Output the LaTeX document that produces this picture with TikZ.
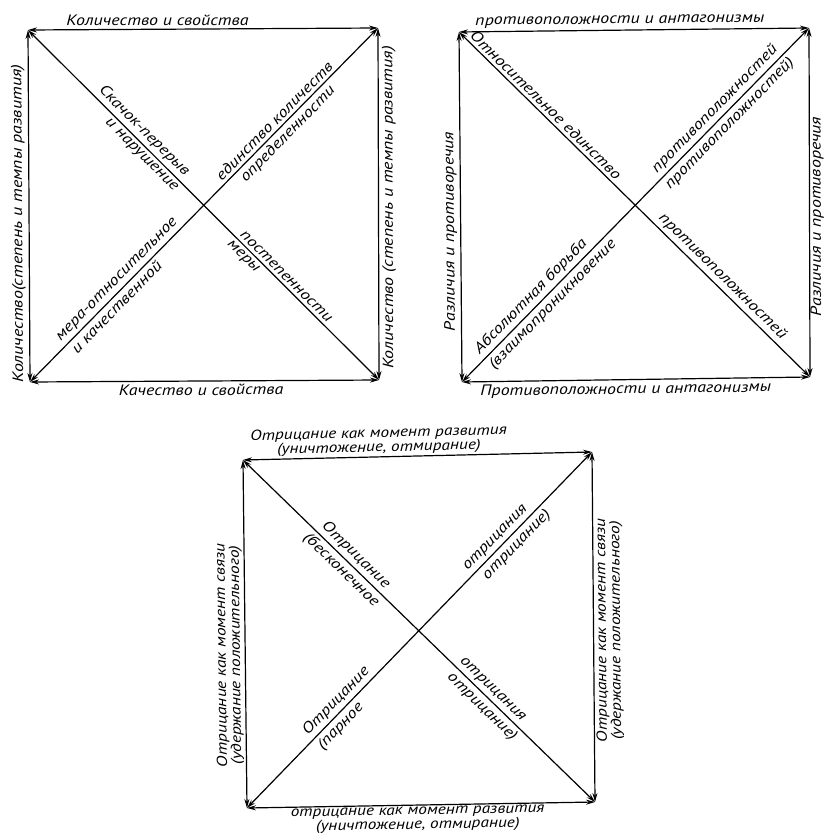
\documentclass[tikz,border=0pt]{standalone}
\usepackage{fontspec}
\setmainfont{PT Sans}[FakeStretch=1.2]
\usetikzlibrary{arrows.meta}
\tikzset{
  lab/.style={font=\itshape\fontsize{15}{12}\selectfont, inner sep=3pt, sloped, allow upside down},
  twolab/.style={lab, align=center, font=\itshape\fontsize{14.5}{11}\selectfont, inner sep=1.5pt},
}
\begin{document}
\begin{tikzpicture}[x=1pt,y=-1pt,>={Stealth[length=9pt,width=5pt]},line width=1.2pt]
\useasboundingbox (0,0) rectangle (824,834);
\coordinate (a1) at (28,30);
\coordinate (b1) at (378,28);
\coordinate (c1) at (30,382);
\coordinate (d1) at (379,380);
\coordinate (a2) at (459,32);
\coordinate (b2) at (809,28);
\coordinate (c2) at (462,382);
\coordinate (d2) at (810,377);
\coordinate (a3) at (243,460);
\coordinate (b3) at (592,452);
\coordinate (c3) at (247,808);
\coordinate (d3) at (595,802);
\draw[<->] (a1) -- node[lab,above,pos=.37] (top1) {Количество и свойства} (b1);
\draw[<->] (c1) -- node[lab,below,pos=.49] (bot1) {Качество и свойства} (d1);
\draw[<->] (c1) -- node[lab,above,pos=.45] (lft1) {Количество(степень и темпы развития)} (a1);
\draw[<->] (d1) -- node[lab,below,pos=.49] (rgt1) {Количество (степень и темпы развития)} (b1);
\draw[<->] (a1) -- node[lab,above,pos=.31] (skachok) {Скачок-перерыв} node[lab,below,pos=.34] (narush) {и нарушение}
  node[lab,above,pos=.72] (postep) {постепенности} node[lab,below,pos=.63] (mery) {меры} (d1);
\draw[<->] (c1) -- node[lab,above,pos=.27] (mera) {мера-относительное} node[lab,below,pos=.23] (kachest) {и качественной}
  node[lab,above,pos=.72] (edinkol) {единство количеств} node[lab,below,pos=.72] (opred) {определенности} (b1);
\draw[<->] (a2) -- node[lab,above,pos=.46] (top2) {противоположности и антагонизмы} (b2);
\draw[<->] (c2) -- node[lab,below,pos=.47] (bot2) {Противоположности и антагонизмы} (d2);
\draw[<->] (c2) -- node[lab,above,pos=.43] (lft2) {Различия и противоречия} (a2);
\draw[<->] (d2) -- node[lab,below,pos=.46,inner sep=0pt] (rgt2) {Различия и противоречия} (b2);
\draw[<->] (a2) -- node[lab,above,pos=.23] (otnos) {Относительное единство}
  node[lab,above,pos=.73] (protiv1) {противоположностей} (d2);
\draw[<->] (c2) -- node[lab,above,pos=.22] (absol) {Абсолютная борьба} node[lab,below,pos=.24] (vzaim) {(взаимопроникновение}
  node[lab,above,pos=.75] (protiv2) {противоположностей} node[lab,below,pos=.75] (protiv3) {противоположностей)} (b2);
\draw[<->] (a3) -- node[twolab,above,pos=.39] (top3) {Отрицание как момент развития\\(уничтожение, отмирание)} (b3);
\draw[<->] (c3) -- node[twolab,below,pos=.49] (bot3) {отрицание как момент развития\\(уничтожение, отмирание)} (d3);
\draw[<->] (c3) -- node[twolab,above,pos=.44] (lft3) {Отрицание как момент связи\\(удержание положительного)} (a3);
\draw[<->] (d3) -- node[twolab,below,pos=.49] (rgt3) {Отрицание как момент связи\\(удержание положительного)} (b3);
\draw[<->] (a3) -- node[lab,above,pos=.30] (otr1) {Отрицание} node[lab,below,pos=.30] (beskon) {(бесконечное}
  node[lab,above,pos=.69] (otr2) {отрицания} node[lab,below,pos=.70] (otr3) {отрицание)} (d3);
\draw[<->] (c3) -- node[lab,above,pos=.28] (otr4) {Отрицание} node[lab,below,pos=.25] (parnoe) {(парное}
  node[lab,above,pos=.74] (otr5) {отрицания} node[lab,below,pos=.76] (otr6) {отрицание)} (b3);
\end{tikzpicture}
\end{document}
